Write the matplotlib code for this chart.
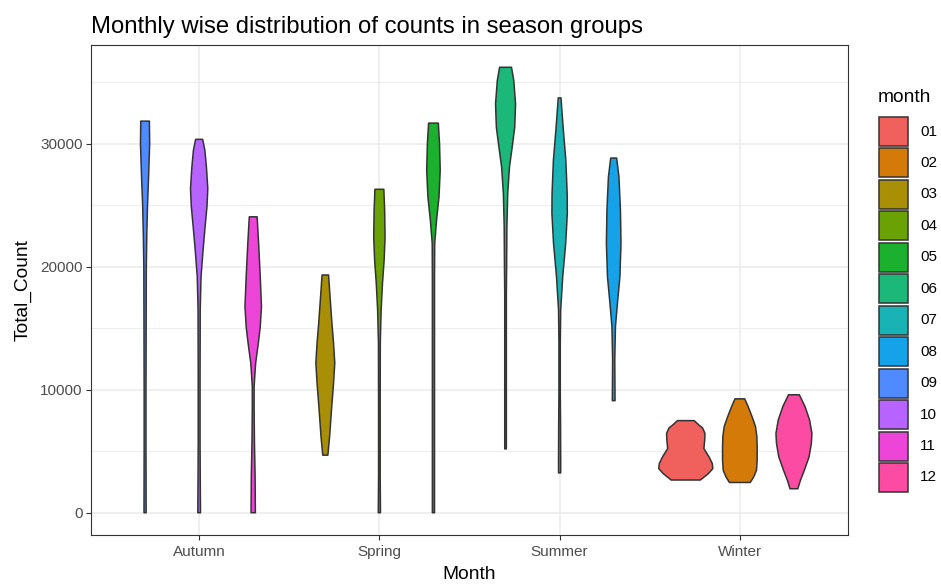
import numpy as np
import matplotlib
matplotlib.use("Agg")
import matplotlib.pyplot as plt
from matplotlib.patches import Rectangle

plt.rcParams["font.family"] = ["Liberation Sans", "DejaVu Sans"]

seasons = ["Autumn", "Spring", "Summer", "Winter"]
months = ["01", "02", "03", "04", "05", "06", "07", "08", "09", "10", "11", "12"]
month_season = ["Winter", "Winter", "Spring", "Spring", "Spring", "Summer",
                "Summer", "Summer", "Autumn", "Autumn", "Autumn", "Winter"]
month_colors = ["#F0605D", "#D37A08", "#A88F05", "#6AA204", "#1BB02E", "#1BB87A",
                "#19B3B6", "#16A2E8", "#4F8AFF", "#B663FF", "#EE45D9", "#FB4BA2"]

# violin outlines: Total_Count levels and relative width (1 = widest)
violin_y = {
    "01": [2660, 3180, 3590, 4000, 4540, 5220, 5900, 6450, 6900, 7130, 7490],
    "02": [2460, 2900, 3450, 4270, 5360, 6180, 7000, 7815, 8635, 9260],
    "03": [4680, 6220, 8400, 10540, 12160, 13800, 15400, 17570, 19330],
    "04": [0, 3000, 8400, 13800, 16500, 18650, 20500, 22400, 24600, 26300],
    "05": [0, 10000, 19200, 21900, 23800, 25680, 27840, 30000, 31680],
    "06": [5190, 10000, 17840, 20000, 23250, 25950, 28100, 29730, 31350, 33250, 35140, 36220],
    "07": [3240, 4320, 7030, 9730, 13800, 16490, 19190, 21900, 24330, 25950, 28650, 31350, 33730],
    "08": [9110, 12430, 15140, 17300, 19190, 21900, 24600, 27300, 28840],
    "09": [0, 5000, 10000, 15000, 20000, 22700, 25000, 27300, 30000, 31840],
    "10": [0, 3000, 5700, 11100, 16500, 19200, 21350, 23250, 24900, 26350, 28100, 29500, 30360],
    "11": [0, 3000, 5700, 8400, 10300, 12160, 13800, 15100, 16760, 19200, 21900, 24060],
    "12": [1950, 2630, 3450, 4540, 5630, 6450, 7540, 8635, 9590],
}
violin_w = {
    "01": [0.54, 0.835, 1.0, 0.98, 0.86, 0.67, 0.70, 0.71, 0.62, 0.485, 0.31],
    "02": [0.385, 0.51, 0.615, 0.64, 0.64, 0.63, 0.58, 0.45, 0.305, 0.18],
    "03": [0.095, 0.16, 0.23, 0.305, 0.35, 0.305, 0.245, 0.175, 0.12],
    "04": [0.04, 0.03, 0.03, 0.034, 0.065, 0.115, 0.175, 0.21, 0.195, 0.165],
    "05": [0.04, 0.04, 0.04, 0.046, 0.115, 0.205, 0.25, 0.225, 0.18],
    "06": [0.03, 0.03, 0.03, 0.04, 0.05, 0.08, 0.145, 0.245, 0.34, 0.37, 0.305, 0.22],
    "07": [0.04, 0.04, 0.035, 0.025, 0.025, 0.04, 0.115, 0.225, 0.285, 0.28, 0.23, 0.13, 0.05],
    "08": [0.05, 0.04, 0.065, 0.15, 0.23, 0.27, 0.25, 0.195, 0.11],
    "09": [0.04, 0.034, 0.034, 0.04, 0.046, 0.065, 0.09, 0.13, 0.17, 0.16],
    "10": [0.05, 0.04, 0.034, 0.034, 0.04, 0.07, 0.145, 0.22, 0.29, 0.32, 0.27, 0.21, 0.13],
    "11": [0.08, 0.07, 0.046, 0.034, 0.034, 0.09, 0.19, 0.26, 0.305, 0.26, 0.2, 0.145],
    "12": [0.145, 0.24, 0.385, 0.56, 0.645, 0.665, 0.58, 0.41, 0.2],
}

W, H = 941, 585
fig = plt.figure(figsize=(W / 100, H / 100), dpi=100)
ax = fig.add_axes([91 / W, 50 / H, 757 / W, 490 / H])

dodge = 0.9
edge = "#333333"
for season_i, season in enumerate(seasons):
    group = [m for m, s in zip(months, month_season) if s == season]
    slot = dodge / len(group)
    for j, m in enumerate(group):
        center = season_i + 1 - dodge / 2 + slot * (j + 0.5)
        y = np.array(violin_y[m])
        hw = np.array(violin_w[m]) * slot / 2
        xs = np.concatenate([center + hw, (center - hw)[::-1]])
        ys = np.concatenate([y, y[::-1]])
        ax.fill(xs, ys, facecolor=month_colors[months.index(m)], edgecolor=edge,
                linewidth=1.1, joinstyle="round", zorder=3)

all_y = np.concatenate([violin_y[m] for m in months])
lo, hi = all_y.min(), all_y.max()
pad = 0.05 * (hi - lo)
ax.set_ylim(lo - pad, hi + pad)
ax.set_xlim(0.4, len(seasons) + 0.6)

ax.set_xticks(range(1, len(seasons) + 1))
ax.set_xticklabels(seasons)
ax.set_yticks([0, 10000, 20000, 30000])
ax.set_yticks([5000, 15000, 25000, 35000], minor=True)
ax.grid(True, which="major", color="#EBEBEB", linewidth=1.1, zorder=0)
ax.grid(True, which="minor", axis="y", color="#EBEBEB", linewidth=0.6, zorder=0)
ax.set_axisbelow(True)
ax.tick_params(axis="both", which="major", length=3.5, width=0.8, color=edge,
               labelsize=11, labelcolor="#4D4D4D", pad=2.5)
ax.tick_params(axis="x", which="major", pad=4)
ax.tick_params(axis="y", which="minor", length=0)
for sp in ax.spines.values():
    sp.set_color(edge)
    sp.set_linewidth(0.8)

ax.set_xlabel("Month", fontsize=13.75, labelpad=5)
ax.set_ylabel("Total_Count", fontsize=13.75, labelpad=6)
ax.set_title("Monthly wise distribution of counts in season groups",
             loc="left", fontsize=17.2, pad=9)

# legend drawn by hand to match ggplot key spacing (pixel layout)
key_left, key_top, key_size, key_pitch = 879, 117, 29, 31.45
fig.text((key_left - 1) / W, 1 - 98 / H, "month", fontsize=13.75, ha="left", va="center")
for i, (m, c) in enumerate(zip(months, month_colors)):
    top = key_top + i * key_pitch
    fig.patches.append(Rectangle((key_left / W, 1 - (top + key_size) / H),
                                 key_size / W, key_size / H, transform=fig.transFigure,
                                 facecolor=c, edgecolor=edge, linewidth=1.1))
    fig.text(920 / W, 1 - (top + key_size / 2) / H, m, fontsize=11,
             ha="left", va="center")

fig.savefig("out.png", dpi=100, facecolor="white")
